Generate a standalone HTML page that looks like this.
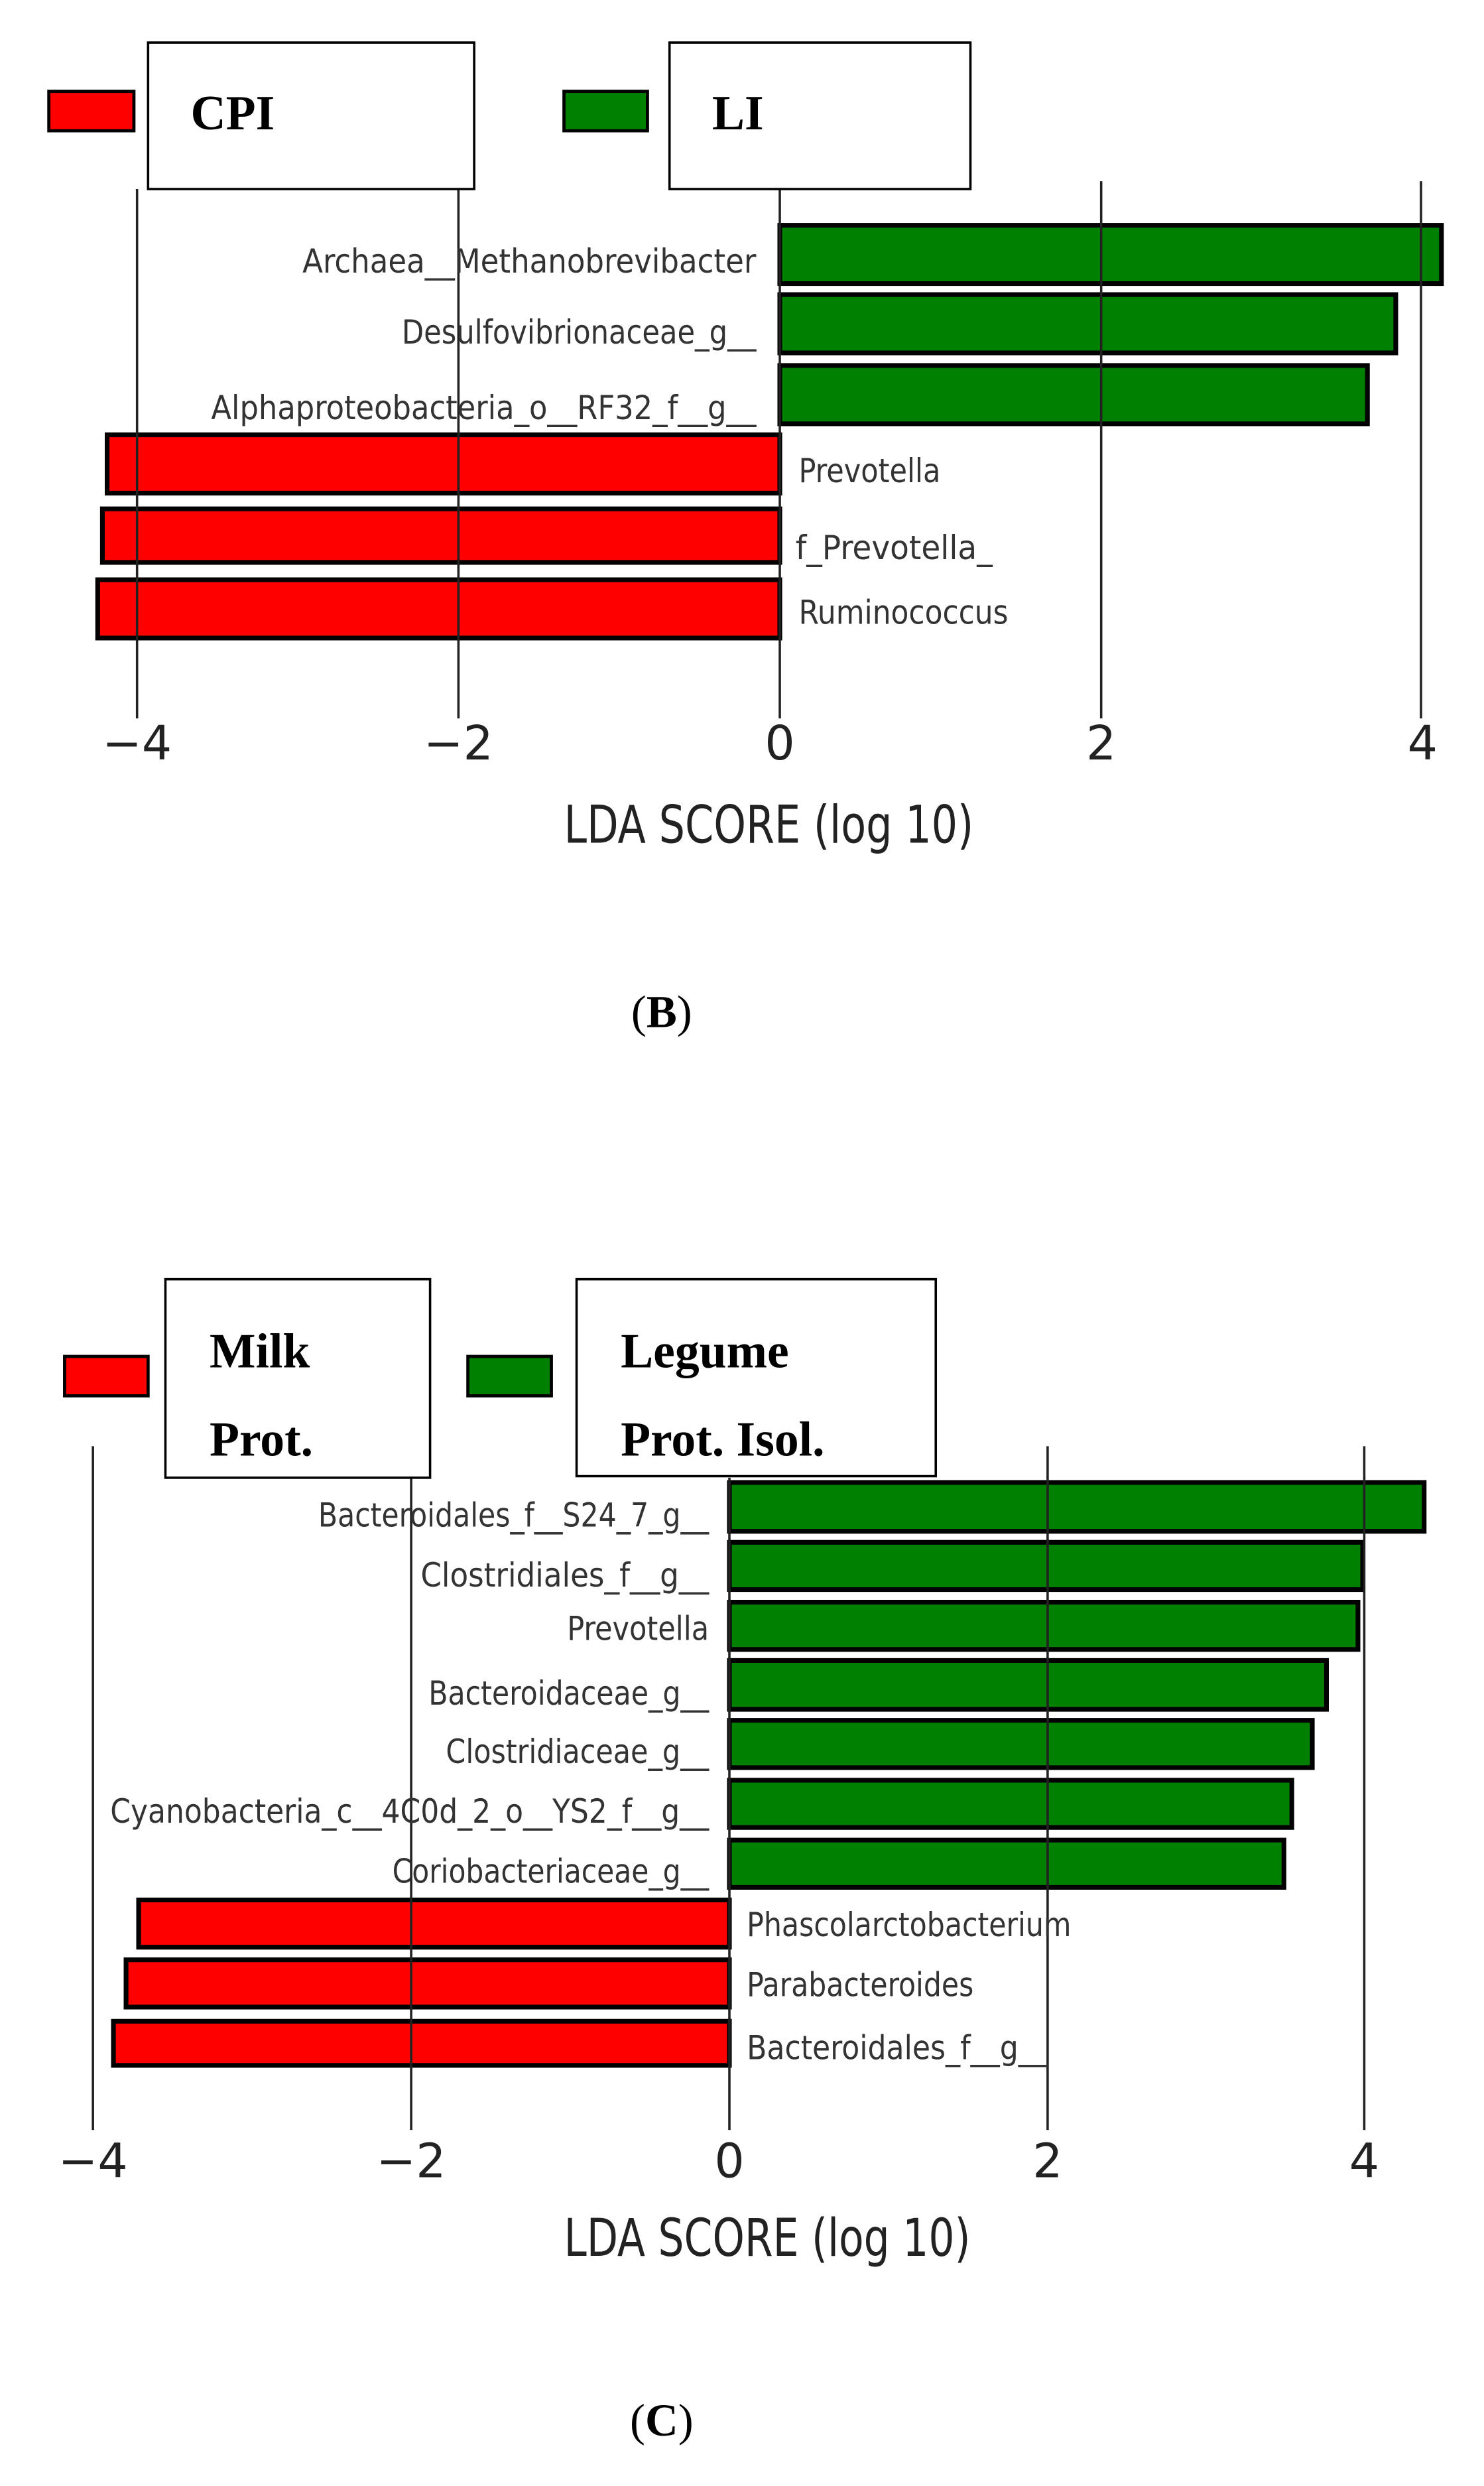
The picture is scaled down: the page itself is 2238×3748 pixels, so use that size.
<!DOCTYPE html>
<html><head><style>html,body{margin:0;padding:0;background:#fff}svg{display:block}</style></head>
<body>
<svg width="2238" height="3748" viewBox="0 0 942 1578" preserveAspectRatio="none" xmlns="http://www.w3.org/2000/svg">
<style>
.lab{font-family:"DejaVu Sans Condensed","Liberation Sans Narrow","Liberation Sans",sans-serif;font-size:21px;fill:#333}
.tick{font-family:"DejaVu Sans","Liberation Sans",sans-serif;font-size:30px;fill:#222}
.ax{font-family:"DejaVu Sans Condensed","Liberation Sans",sans-serif;font-size:33px;fill:#222}
.leg{font-family:"Liberation Serif",serif;font-weight:bold;font-size:31px;fill:#000}
.cap{font-family:"Liberation Serif",serif;font-size:29px;fill:#000}
</style>
<!-- Panel B -->
<g stroke="#000" stroke-width="3">
<rect x="495" y="143" width="420" height="37" fill="#008000"/>
<rect x="495" y="187" width="391" height="37" fill="#008000"/>
<rect x="495" y="232" width="373" height="37" fill="#008000"/>
<rect x="68" y="276" width="427" height="37" fill="#ff0000"/>
<rect x="65" y="323" width="430" height="34" fill="#ff0000"/>
<rect x="62" y="368" width="433" height="37" fill="#ff0000"/>
</g>
<g stroke="#222" stroke-width="1.5">
<line x1="87" y1="120" x2="87" y2="456"/><line x1="291" y1="120" x2="291" y2="456"/>
<line x1="495" y1="120" x2="495" y2="456"/><line x1="699" y1="115" x2="699" y2="456"/>
<line x1="902" y1="115" x2="902" y2="456"/>
</g>
<rect x="31" y="58" width="54" height="25" fill="#ff0000" stroke="#000" stroke-width="2"/>
<rect x="94" y="27" width="207" height="93" fill="#fff" stroke="#000" stroke-width="1.5"/>
<text x="121" y="82" class="leg">CPI</text>
<rect x="358" y="58" width="53" height="25" fill="#008000" stroke="#000" stroke-width="2"/>
<rect x="425" y="27" width="191" height="93" fill="#fff" stroke="#000" stroke-width="1.5"/>
<text x="452" y="82" class="leg">LI</text>
<g class="lab">
<text x="192" y="173" textLength="288" lengthAdjust="spacingAndGlyphs">Archaea__Methanobrevibacter</text>
<text x="255" y="218" textLength="225" lengthAdjust="spacingAndGlyphs">Desulfovibrionaceae_g__</text>
<text x="134" y="266" textLength="346" lengthAdjust="spacingAndGlyphs">Alphaproteobacteria_o__RF32_f__g__</text>
<text x="507" y="306" textLength="90" lengthAdjust="spacingAndGlyphs">Prevotella</text>
<text x="505" y="355" textLength="125" lengthAdjust="spacingAndGlyphs">f_Prevotella_</text>
<text x="507" y="396" textLength="133" lengthAdjust="spacingAndGlyphs">Ruminococcus</text>
</g>
<g class="tick" text-anchor="middle">
<text x="87" y="482">−4</text><text x="291" y="482">−2</text><text x="495" y="482">0</text><text x="699" y="482">2</text><text x="903" y="482">4</text>
</g>
<text x="358" y="535" class="ax" textLength="260" lengthAdjust="spacingAndGlyphs">LDA SCORE (log 10)</text>
<text x="420" y="652" class="cap" text-anchor="middle">(<tspan font-weight="bold">B</tspan>)</text>

<!-- Panel C -->
<g stroke="#000" stroke-width="3">
<rect x="463" y="941" width="441" height="31" fill="#008000"/>
<rect x="463" y="979" width="402" height="30" fill="#008000"/>
<rect x="463" y="1017" width="399" height="30" fill="#008000"/>
<rect x="463" y="1054" width="379" height="31" fill="#008000"/>
<rect x="463" y="1092" width="370" height="30" fill="#008000"/>
<rect x="463" y="1130" width="357" height="30" fill="#008000"/>
<rect x="463" y="1168" width="352" height="30" fill="#008000"/>
<rect x="88" y="1206" width="375" height="30" fill="#ff0000"/>
<rect x="80" y="1244" width="383" height="30" fill="#ff0000"/>
<rect x="72" y="1283" width="391" height="28" fill="#ff0000"/>
</g>
<g stroke="#222" stroke-width="1.5">
<line x1="59" y1="918" x2="59" y2="1352"/><line x1="261" y1="938" x2="261" y2="1352"/>
<line x1="463" y1="938" x2="463" y2="1352"/><line x1="665" y1="918" x2="665" y2="1352"/>
<line x1="866" y1="918" x2="866" y2="1352"/>
</g>
<rect x="41" y="861" width="53" height="25" fill="#ff0000" stroke="#000" stroke-width="2"/>
<rect x="105" y="812" width="168" height="126" fill="#fff" stroke="#000" stroke-width="1.5"/>
<text x="133" y="868" class="leg">Milk</text>
<text x="133" y="924" class="leg">Prot.</text>
<rect x="297" y="861" width="53" height="25" fill="#008000" stroke="#000" stroke-width="2"/>
<rect x="366" y="812" width="228" height="125" fill="#fff" stroke="#000" stroke-width="1.5"/>
<text x="394" y="868" class="leg">Legume</text>
<text x="394" y="924" class="leg">Prot. Isol.</text>
<g class="lab">
<text x="202" y="969" textLength="248" lengthAdjust="spacingAndGlyphs">Bacteroidales_f__S24_7_g__</text>
<text x="267" y="1007" textLength="183" lengthAdjust="spacingAndGlyphs">Clostridiales_f__g__</text>
<text x="360" y="1041" textLength="90" lengthAdjust="spacingAndGlyphs">Prevotella</text>
<text x="272" y="1082" textLength="178" lengthAdjust="spacingAndGlyphs">Bacteroidaceae_g__</text>
<text x="283" y="1119" textLength="167" lengthAdjust="spacingAndGlyphs">Clostridiaceae_g__</text>
<text x="70" y="1157" textLength="380" lengthAdjust="spacingAndGlyphs">Cyanobacteria_c__4C0d_2_o__YS2_f__g__</text>
<text x="249" y="1195" textLength="201" lengthAdjust="spacingAndGlyphs">Coriobacteriaceae_g__</text>
<text x="474" y="1229" textLength="206" lengthAdjust="spacingAndGlyphs">Phascolarctobacterium</text>
<text x="474" y="1267" textLength="144" lengthAdjust="spacingAndGlyphs">Parabacteroides</text>
<text x="474" y="1307" textLength="191" lengthAdjust="spacingAndGlyphs">Bacteroidales_f__g__</text>
</g>
<g class="tick" text-anchor="middle">
<text x="59" y="1382">−4</text><text x="261" y="1382">−2</text><text x="463" y="1382">0</text><text x="665" y="1382">2</text><text x="866" y="1382">4</text>
</g>
<text x="358" y="1432" class="ax" textLength="258" lengthAdjust="spacingAndGlyphs">LDA SCORE (log 10)</text>
<text x="420" y="1546" class="cap" text-anchor="middle">(<tspan font-weight="bold">C</tspan>)</text>
</svg>
</body></html>
